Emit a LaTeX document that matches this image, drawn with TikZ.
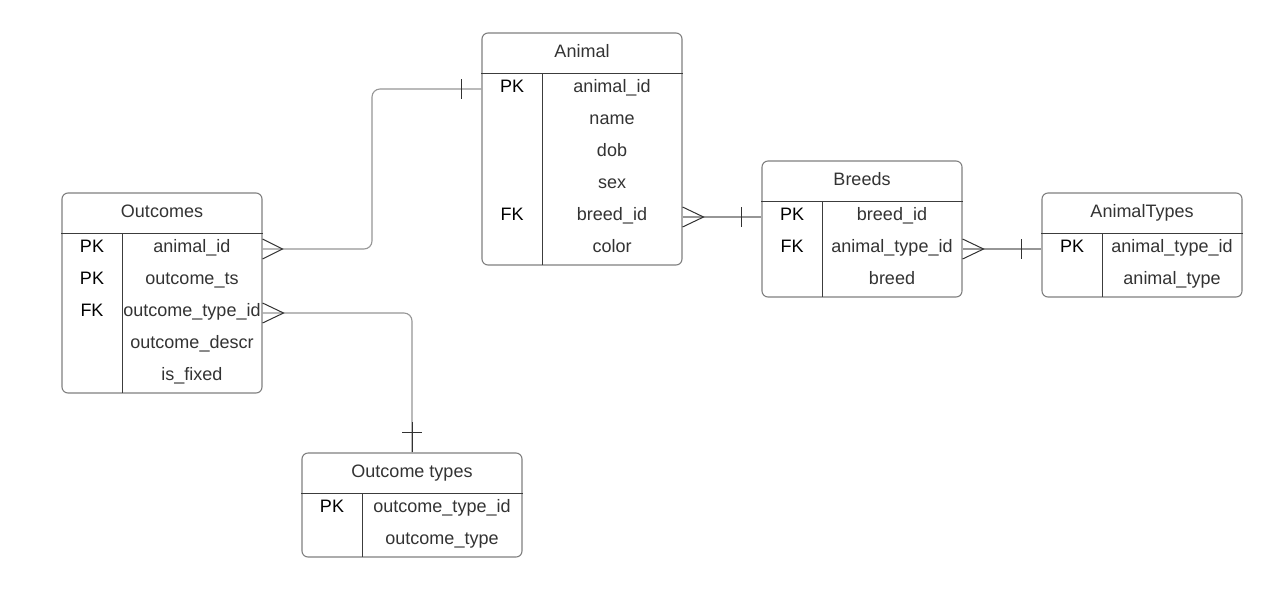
\documentclass[tikz,border=0pt]{standalone}
\usepackage{fontspec}
\setmainfont{Liberation Sans}
\usetikzlibrary{calc}
\definecolor{boxline}{RGB}{128,128,128}
\definecolor{innerline}{RGB}{60,60,60}
\definecolor{connline}{RGB}{150,150,150}
\definecolor{markline}{RGB}{50,50,50}
\definecolor{tx}{RGB}{51,51,51}
\begin{document}
\begin{tikzpicture}[x=1pt,y=-1pt,
  tbl/.style={draw=boxline, line width=1.1pt, rounded corners=6pt, inner sep=0pt},
  inner/.style={draw=innerline, line width=1pt},
  hdr/.style={text=tx, font=\fontsize{18}{21}\selectfont, anchor=base, inner sep=0pt},
  fld/.style={text=tx, font=\fontsize{18}{21}\selectfont, anchor=base, inner sep=0pt},
  keyt/.style={text=black, font=\fontsize{18}{21}\selectfont, anchor=base, inner sep=0pt},
  conn/.style={draw=connline, line width=1.1pt},
  mk/.style={draw=markline, line width=1pt}]
\fill[white] (0,0) rectangle (1276,590);
\useasboundingbox (0,0) rectangle (1276,590);

% ---------- Animal ----------
\node[tbl, minimum width=200pt, minimum height=232pt] (animal) at (582,149) {};
\draw[inner] (animal.west |- 0,73) -- (animal.east |- 0,73);
\draw[inner] (542,73) -- (542,265);
\node[hdr] (animal-h) at (582,57) {Animal};
\foreach \n/\t [count=\i] in {id/animal\_id,name/name,dob/dob,sex/sex,bid/breed\_id,color/color}{
  \coordinate (a-r\i) at (582,{73+32*\i-16});
  \node[fld] (a-\n) at (612,{73+32*\i-13}) {\t};
}
\node[keyt] (a-pk) at (512,92) {PK};
\node[keyt] (a-fk) at (512,220) {FK};

% ---------- Outcomes ----------
\node[tbl, minimum width=200pt, minimum height=200pt] (out) at (162,293) {};
\draw[inner] (out.west |- 0,233) -- (out.east |- 0,233);
\draw[inner] (122,233) -- (122,393);
\node[hdr] (out-h) at (162,217) {Outcomes};
\foreach \n/\t [count=\i] in {aid/animal\_id,ts/outcome\_ts,tid/outcome\_type\_id,descr/outcome\_descr,fixed/is\_fixed}{
  \coordinate (o-r\i) at (162,{233+32*\i-16});
  \node[fld] (o-\n) at (192,{233+32*\i-13}) {\t};
}
\node[keyt] (o-pk1) at (92,252) {PK};
\node[keyt] (o-pk2) at (92,284) {PK};
\node[keyt] (o-fk) at (92,316) {FK};

% ---------- Breeds ----------
\node[tbl, minimum width=200pt, minimum height=136pt] (breeds) at (862,229) {};
\draw[inner] (breeds.west |- 0,201) -- (breeds.east |- 0,201);
\draw[inner] (822,201) -- (822,297);
\node[hdr] (breeds-h) at (862,185) {Breeds};
\foreach \n/\t [count=\i] in {bid/breed\_id,tid/animal\_type\_id,breed/breed}{
  \coordinate (b-r\i) at (862,{201+32*\i-16});
  \node[fld] (b-\n) at (892,{201+32*\i-13}) {\t};
}
\node[keyt] (b-pk) at (792,220) {PK};
\node[keyt] (b-fk) at (792,252) {FK};

% ---------- AnimalTypes ----------
\node[tbl, minimum width=200pt, minimum height=104pt] (types) at (1142,245) {};
\draw[inner] (types.west |- 0,233) -- (types.east |- 0,233);
\draw[inner] (1102,233) -- (1102,297);
\node[hdr] (types-h) at (1142,217) {AnimalTypes};
\foreach \n/\t [count=\i] in {tid/animal\_type\_id,type/animal\_type}{
  \coordinate (t-r\i) at (1142,{233+32*\i-16});
  \node[fld] (t-\n) at (1172,{233+32*\i-13}) {\t};
}
\node[keyt] (t-pk) at (1072,252) {PK};

% ---------- Outcome types ----------
\node[tbl, minimum width=220pt, minimum height=104pt] (ot) at (412,505) {};
\draw[inner] (ot.west |- 0,493) -- (ot.east |- 0,493);
\draw[inner] (362,493) -- (362,557);
\node[hdr] (ot-h) at (412,477) {Outcome types};
\foreach \n/\t [count=\i] in {tid/outcome\_type\_id,type/outcome\_type}{
  \coordinate (ot-r\i) at (412,{493+32*\i-16});
  \node[fld] (ot-\n) at (442,{493+32*\i-13}) {\t};
}
\node[keyt] (ot-pk) at (332,512) {PK};

% ---------- Connectors ----------
% Outcomes.animal_id >--| Animal.animal_id
\draw[conn, rounded corners=8pt] (out.east |- o-r1) -| ($(out.east)!0.5!(animal.west)$) |- (animal.west |- a-r1);
\draw[mk] (out.east |- o-r1) ++(0,-10) -- ++(20,10) -- ++(-20,10);
\draw[mk] (animal.west |- a-r1) ++(-20,-10) -- ++(0,20);

% Animal.breed_id >--| Breeds.breed_id
\draw[conn] (animal.east |- a-r5) -- (breeds.west |- b-r1);
\draw[mk] (animal.east |- a-r5) ++(0,-10) -- ++(21,10) -- ++(-21,10);
\draw[mk] (breeds.west |- b-r1) ++(-20,-10) -- ++(0,20);

% Breeds.animal_type_id >--| AnimalTypes.animal_type_id
\draw[conn] (breeds.east |- b-r2) -- (types.west |- t-r1);
\draw[mk] (breeds.east |- b-r2) ++(0,-10) -- ++(21,10) -- ++(-21,10);
\draw[mk] (types.west |- t-r1) ++(-20,-10) -- ++(0,20);

% Outcomes.outcome_type_id >--| Outcome types
\draw[conn, rounded corners=8pt] (out.east |- o-r3) -| (ot.north);
\draw[mk] (out.east |- o-r3) ++(0,-10) -- ++(21,10) -- ++(-21,10);
\draw[mk] (ot.north) ++(-10,-20) -- ++(20,0);
\draw[mk] (ot.north) -- ++(0,-30);
\end{tikzpicture}
\end{document}
